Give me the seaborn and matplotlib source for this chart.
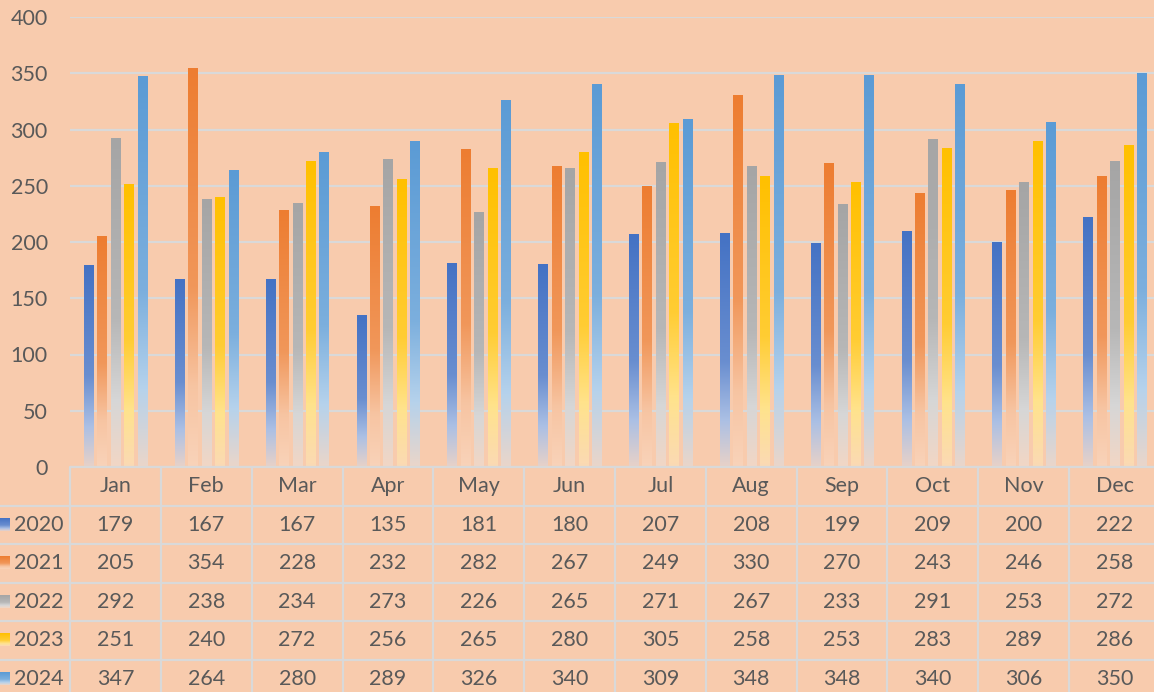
import numpy as np
import pandas as pd
import seaborn as sns
import matplotlib.pyplot as plt
from matplotlib.colors import to_rgb

# .:: Data ::.
months = ["Jan", "Feb", "Mar", "Apr", "May", "Jun", "Jul", "Aug", "Sep", "Oct", "Nov", "Dec"]
years = ["2020", "2021", "2022", "2023", "2024"]
v2020 = [179, 167, 167, 135, 181, 180, 207, 208, 199, 209, 200, 222]
v2021 = [205, 354, 228, 232, 282, 267, 249, 330, 270, 243, 246, 258]
v2022 = [292, 238, 234, 273, 226, 265, 271, 267, 233, 291, 253, 272]
v2023 = [251, 240, 272, 256, 265, 280, 305, 258, 253, 283, 289, 286]
v2024 = [347, 264, 280, 289, 326, 340, 309, 348, 348, 340, 306, 350]
y_ticks = [0, 50, 100, 150, 200, 250, 300, 350, 400]

series = dict(zip(years, [v2020, v2021, v2022, v2023, v2024]))
colors = ["#4472C4", "#ED7D31", "#A5A5A5", "#FFC000", "#5B9BD5"]

df = pd.DataFrame([
    {"month": m, "year": y, "value": vals[i]}
    for y, vals in series.items() for i, m in enumerate(months)
])

BG = "#F8CBAD"
GRID = "#D9D9D9"
TXT = "#595959"

sns.set_theme(style="white")
plt.rcParams["font.family"] = ["Lato", "DejaVu Sans"]


def gradient(c, n=200):
    # top -> bottom: full colour, lighter tint, fading into the background
    c = np.array(to_rgb(c))
    w = np.ones(3)
    bg = np.array(to_rgb(BG))
    stops = [(0.0, c),
             (0.55, c * 0.8 + w * 0.2),
             (0.8, c * 0.45 + w * 0.55),
             (1.0, bg * 0.6 + (c * 0.25 + w * 0.75) * 0.4)]
    t = np.linspace(0, 1, n)
    img = np.zeros((n, 1, 3))
    for k in range(3):
        img[:, 0, k] = np.interp(t, [s[0] for s in stops], [s[1][k] for s in stops])
    return img


W, H = 1154, 692
fig = plt.figure(figsize=(W / 100, H / 100), dpi=100, facecolor=BG)
col_px = 1090 / 12

# .:: Bars ::.
ax = fig.add_axes([70 / W, (H - 467) / H, 1090 / W, 450 / H])
ax.set_facecolor(BG)
sns.barplot(data=df, x="month", y="value", hue="year", palette=colors, saturation=1,
            width=0.74, gap=0.33, legend=False, ax=ax, zorder=2)

for p in list(ax.patches):
    x0, w, h = p.get_x(), p.get_width(), p.get_height()
    fc = p.get_facecolor()
    p.set_visible(False)
    ax.imshow(gradient(fc), extent=[x0, x0 + w, 0, h], aspect="auto", zorder=2)

ax.set_xlim(-0.5, 11.5)
ax.set_ylim(0, 400)
ax.set_yticks(y_ticks)
ax.yaxis.grid(True, color=GRID, lw=1.6, zorder=0)
ax.set_axisbelow(True)
ax.set_xticks([])
ax.set_xlabel("")
ax.set_ylabel("")
fs = 15.5
ax.tick_params(axis="y", length=0, pad=16, labelsize=fs, labelcolor=TXT)
for s in ax.spines.values():
    s.set_visible(False)

# .:: Data table ::.
tab = fig.add_axes([0, (H - 698) / H, 1160 / W, 231 / H])
tab.set_facecolor(BG)
left = -0.5 - 70 / col_px
tab.set_xlim(left, 11.5)
tab.set_ylim(6, 0)
tab.axis("off")

tab.plot([-0.5, 11.5], [0, 0], color=GRID, lw=1.6, clip_on=False)
for r in range(1, 6):
    tab.plot([left, 11.5], [r, r], color=GRID, lw=1.6)
for c in range(12):
    tab.plot([c - 0.5, c - 0.5], [0, 6], color=GRID, lw=1.6)

for i, m in enumerate(months):
    tab.text(i, 0.5, m, ha="center", va="center", fontsize=fs, color=TXT)

key_w = 10 / col_px
for r, (y, c) in enumerate(zip(years, colors), start=1):
    tab.imshow(gradient(c, 50), extent=[left, left + key_w, r + 0.66, r + 0.34],
               aspect="auto", zorder=3)
    tab.text(left + 39 / col_px, r + 0.5, y, ha="center", va="center", fontsize=fs, color=TXT)
    for i, v in enumerate(series[y]):
        tab.text(i, r + 0.5, str(v), ha="center", va="center", fontsize=fs, color=TXT)

tab.set_xlim(left, 11.5)
tab.set_ylim(6, 0)

fig.savefig("out.png", dpi=100, facecolor=BG)
